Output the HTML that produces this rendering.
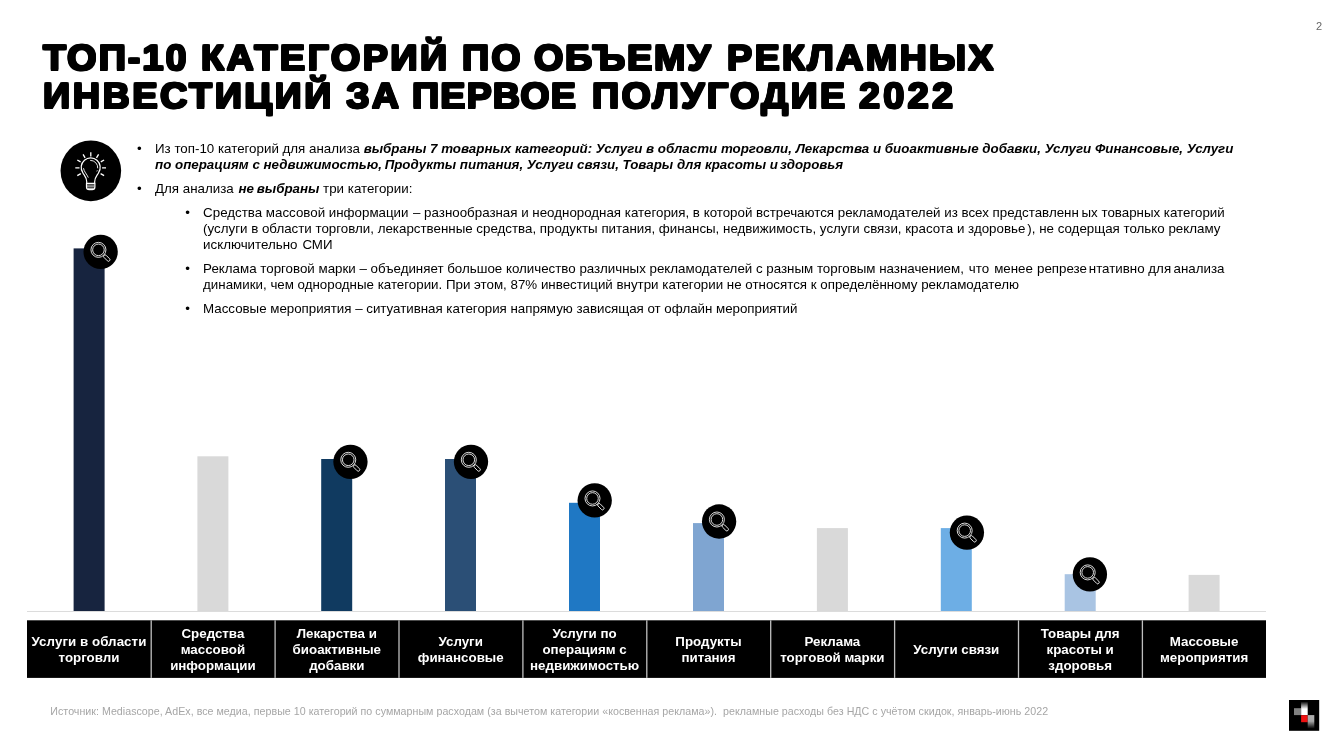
<!DOCTYPE html>
<html lang="ru">
<head>
<meta charset="utf-8">
<title>ТОП-10 категорий по объему рекламных инвестиций</title>
<style>
html,body{margin:0;padding:0;background:#fff;}
body{width:1334px;height:744px;position:relative;overflow:hidden;font-family:"Liberation Sans",sans-serif;color:#000;}
.abs{position:absolute;white-space:nowrap;}
.tw{position:absolute;white-space:nowrap;font-weight:bold;text-rendering:geometricPrecision;font-size:36.00px;line-height:38.00px;text-shadow:1.0px 0.65px 0 #000,-1.0px 0.65px 0 #000,1.0px -0.65px 0 #000,-1.0px -0.65px 0 #000,1.0px 0px 0 #000,-1.0px 0px 0 #000,0px 0.65px 0 #000,0px -0.65px 0 #000;transform-origin:0 0;color:#000;}
.t{position:absolute;white-space:nowrap;font-size:13.33px;line-height:16px;height:16px;color:#000;}
.t b{font-style:italic;font-weight:bold;}
.tbl{position:absolute;left:27px;top:620px;width:1239px;height:58px;}
.geo{position:absolute;left:0;top:0;}
.cell{position:absolute;top:0;height:58px;width:124px;color:#fff;font-weight:bold;font-size:13.33px;}
.cell span{position:absolute;left:0;width:100%;text-align:center;white-space:nowrap;line-height:16px;height:16px;}
.src{font-size:10px;color:#a6a6a6;}
.pg{font-size:11px;line-height:12px;color:#666;}
</style>
</head>
<body>
<div class="tw" style="left:43.28px;top:38.70px;letter-spacing:1.923px;transform:scaleX(1.050)">ТОП-10</div>
<div class="tw" style="left:201.38px;top:38.70px;letter-spacing:2.314px;transform:scaleX(1.050)">КАТЕГОРИЙ</div>
<div class="tw" style="left:461.78px;top:38.70px;letter-spacing:2.032px;transform:scaleX(1.050)">ПО</div>
<div class="tw" style="left:534.34px;top:38.70px;letter-spacing:1.631px;transform:scaleX(1.050)">ОБЪЕМУ</div>
<div class="tw" style="left:726.78px;top:38.70px;letter-spacing:2.165px;transform:scaleX(1.050)">РЕКЛАМНЫХ</div>
<div class="tw" style="left:42.68px;top:76.80px;letter-spacing:2.421px;transform:scaleX(1.050)">ИНВЕСТИЦИЙ</div>
<div class="tw" style="left:346.04px;top:76.80px;letter-spacing:1.961px;transform:scaleX(1.050)">ЗА</div>
<div class="tw" style="left:411.88px;top:76.80px;letter-spacing:1.017px;transform:scaleX(1.050)">ПЕРВОЕ</div>
<div class="tw" style="left:591.58px;top:76.80px;letter-spacing:2.186px;transform:scaleX(1.050)">ПОЛУГОДИЕ</div>
<div class="tw" style="left:859.38px;top:76.80px;letter-spacing:3.144px;transform:scaleX(1.050)">2022</div>
<div class="abs pg" style="left:1315.9px;top:20.2px">2</div>
<div class="t" id="L1" style="left:155.00px;top:140.70px;">Из топ-10 категорий для анализа <b>выбраны 7 товарных категорий: Услуги в области торговли, Лекарства и биоактивные добавки, Услуги Финансовые, Услуги</b></div>
<div class="t" id="L2" style="left:155.00px;top:156.50px;"><b>по операциям с недвижимостью, <span style="margin-left:-1.0px"></span>Продукты питания, Услуги связи, Товары для красоты и <span style="margin-left:-1.6px"></span>здоровья</b></div>
<div class="t" id="L3" style="left:155.00px;top:180.70px;">Для анализа <span style="margin-left:1.2px"></span><b>не <span style="margin-left:-1.0px"></span>выбраны</b> три категории:</div>
<div class="t" id="S1" style="left:203.10px;top:204.80px;">Средства массовой информации <span style="margin-left:0.8px"></span>– разнообразная и неоднородная категория, в которой встречаются рекламодателей из всех представленн<span style="margin-left:2.7px"></span>ых товарных категорий</div>
<div class="t" id="S2" style="left:203.10px;top:220.70px;">(услуги в области торговли, лекарственные средства, продукты питания, финансы, недвижимость, услуги связи, красота и здоровье<span style="margin-left:2.0px"></span>), не содерщая только рекламу</div>
<div class="t" id="S3" style="left:203.10px;top:236.50px;">исключительно <span style="margin-left:1.2px"></span>СМИ</div>
<div class="t" id="S4" style="left:203.10px;top:260.80px;">Реклама торговой марки – объединяет большое количество различных рекламодателей с разным торговым назначением, <span style="margin-left:1.3px"></span>что <span style="margin-left:1.3px"></span>менее <span style="margin-left:0.4px"></span>репрезе<span style="margin-left:1.8px"></span>нтативно для <span style="margin-left:-1.3px"></span>анализа</div>
<div class="t" id="S5" style="left:203.10px;top:276.70px;">динамики, чем однородные категории. При этом, 87% инвестиций внутри категории не относятся к определённому рекламодателю</div>
<div class="t" id="S6" style="left:203.10px;top:300.60px;letter-spacing:-0.020px;">Массовые мероприятия – ситуативная категория напрямую зависящая от офлайн мероприятий</div>
<div class="t" style="left:137.03px;top:140.91px">•</div>
<div class="t" style="left:137.03px;top:180.91px">•</div>
<div class="t" style="left:185.18px;top:204.71px">•</div>
<div class="t" style="left:185.18px;top:260.71px">•</div>
<div class="t" style="left:185.18px;top:300.51px">•</div>
<svg class="geo" width="1334" height="744" viewBox="0 0 1334 744">
<rect x="27.00" y="611.00" width="1239.00" height="1.00" fill="#dcdcdc"/>
<rect x="73.60" y="248.40" width="31.00" height="362.60" fill="#17243f"/>
<rect x="197.40" y="456.30" width="31.00" height="154.70" fill="#d9d9d9"/>
<rect x="321.20" y="459.00" width="31.00" height="152.00" fill="#103a60"/>
<rect x="445.00" y="459.00" width="31.00" height="152.00" fill="#2b4f76"/>
<rect x="569.00" y="502.80" width="31.00" height="108.20" fill="#1f78c4"/>
<rect x="693.00" y="523.10" width="31.00" height="87.90" fill="#7fa5d1"/>
<rect x="816.90" y="528.10" width="31.00" height="82.90" fill="#d9d9d9"/>
<rect x="940.80" y="528.10" width="31.00" height="82.90" fill="#6daee5"/>
<rect x="1064.70" y="574.20" width="31.00" height="36.80" fill="#a9c4e3"/>
<rect x="1188.60" y="574.90" width="31.00" height="36.10" fill="#d9d9d9"/>
<rect x="27.00" y="620.30" width="1239.00" height="57.60" fill="#000"/>
<rect x="150.55" y="620.30" width="1.30" height="57.60" fill="#bfbfbf"/>
<rect x="274.45" y="620.30" width="1.30" height="57.60" fill="#bfbfbf"/>
<rect x="398.35" y="620.30" width="1.30" height="57.60" fill="#bfbfbf"/>
<rect x="522.25" y="620.30" width="1.30" height="57.60" fill="#bfbfbf"/>
<rect x="646.15" y="620.30" width="1.30" height="57.60" fill="#bfbfbf"/>
<rect x="770.05" y="620.30" width="1.30" height="57.60" fill="#bfbfbf"/>
<rect x="893.95" y="620.30" width="1.30" height="57.60" fill="#bfbfbf"/>
<rect x="1017.85" y="620.30" width="1.30" height="57.60" fill="#bfbfbf"/>
<rect x="1141.75" y="620.30" width="1.30" height="57.60" fill="#bfbfbf"/>
</svg>
<div class="tbl">
<div class="cell" style="left:0.0px"><span style="top:14.0px;letter-spacing:0.05px">Услуги в области</span><span style="top:30.0px">торговли</span></div>
<div class="cell" style="left:123.9px"><span style="top:6.0px">Средства</span><span style="top:22.0px">массовой</span><span style="top:38.0px">информации</span></div>
<div class="cell" style="left:247.8px"><span style="top:6.0px">Лекарства и</span><span style="top:22.0px">биоактивные</span><span style="top:38.0px">добавки</span></div>
<div class="cell" style="left:371.7px"><span style="top:14.0px">Услуги</span><span style="top:30.0px">финансовые</span></div>
<div class="cell" style="left:495.6px"><span style="top:6.0px">Услуги по</span><span style="top:22.0px">операциям с</span><span style="top:38.0px">недвижимостью</span></div>
<div class="cell" style="left:619.5px"><span style="top:14.0px">Продукты</span><span style="top:30.0px">питания</span></div>
<div class="cell" style="left:743.4px"><span style="top:14.0px">Реклама</span><span style="top:30.0px">торговой марки</span></div>
<div class="cell" style="left:867.3px"><span style="top:22.0px">Услуги связи</span></div>
<div class="cell" style="left:991.2px"><span style="top:6.0px">Товары для</span><span style="top:22.0px">красоты и</span><span style="top:38.0px">здоровья</span></div>
<div class="cell" style="left:1115.1px"><span style="top:14.0px">Массовые</span><span style="top:30.0px">мероприятия</span></div>
</div>
<div class="abs src" id="src" style="left:50.3px;top:704.5px;font-size:10.67px;line-height:12px;letter-spacing:0.027px;">Источник: Mediascope, AdEx, все медиа, первые 10 категорий по суммарным расходам (за вычетом категории «косвенная реклама»).&nbsp; рекламные расходы без НДС с учётом скидок, январь-июнь 2022</div>
<svg class="geo" width="1334" height="744" viewBox="0 0 1334 744">
<g transform="translate(82.65 233.85)"><circle cx="18" cy="18" r="17.15" fill="#000"/><g fill="none" stroke="#fff" stroke-width="0.85"><circle cx="15.8" cy="16" r="7.5"/><circle cx="15.8" cy="16" r="5.8"/><rect x="-1.5" y="0" width="3" height="7.7" rx="1.4" transform="translate(21.4 21.5) rotate(-45)"/></g></g>
<g transform="translate(332.45 443.80)"><circle cx="18" cy="18" r="17.15" fill="#000"/><g fill="none" stroke="#fff" stroke-width="0.85"><circle cx="15.8" cy="16" r="7.5"/><circle cx="15.8" cy="16" r="5.8"/><rect x="-1.5" y="0" width="3" height="7.7" rx="1.4" transform="translate(21.4 21.5) rotate(-45)"/></g></g>
<g transform="translate(453.00 443.80)"><circle cx="18" cy="18" r="17.15" fill="#000"/><g fill="none" stroke="#fff" stroke-width="0.85"><circle cx="15.8" cy="16" r="7.5"/><circle cx="15.8" cy="16" r="5.8"/><rect x="-1.5" y="0" width="3" height="7.7" rx="1.4" transform="translate(21.4 21.5) rotate(-45)"/></g></g>
<g transform="translate(576.70 482.45)"><circle cx="18" cy="18" r="17.15" fill="#000"/><g fill="none" stroke="#fff" stroke-width="0.85"><circle cx="15.8" cy="16" r="7.5"/><circle cx="15.8" cy="16" r="5.8"/><rect x="-1.5" y="0" width="3" height="7.7" rx="1.4" transform="translate(21.4 21.5) rotate(-45)"/></g></g>
<g transform="translate(701.10 503.50)"><circle cx="18" cy="18" r="17.15" fill="#000"/><g fill="none" stroke="#fff" stroke-width="0.85"><circle cx="15.8" cy="16" r="7.5"/><circle cx="15.8" cy="16" r="5.8"/><rect x="-1.5" y="0" width="3" height="7.7" rx="1.4" transform="translate(21.4 21.5) rotate(-45)"/></g></g>
<g transform="translate(948.90 514.60)"><circle cx="18" cy="18" r="17.15" fill="#000"/><g fill="none" stroke="#fff" stroke-width="0.85"><circle cx="15.8" cy="16" r="7.5"/><circle cx="15.8" cy="16" r="5.8"/><rect x="-1.5" y="0" width="3" height="7.7" rx="1.4" transform="translate(21.4 21.5) rotate(-45)"/></g></g>
<g transform="translate(1071.90 556.40)"><circle cx="18" cy="18" r="17.15" fill="#000"/><g fill="none" stroke="#fff" stroke-width="0.85"><circle cx="15.8" cy="16" r="7.5"/><circle cx="15.8" cy="16" r="5.8"/><rect x="-1.5" y="0" width="3" height="7.7" rx="1.4" transform="translate(21.4 21.5) rotate(-45)"/></g></g>
</svg>
<svg class="geo" width="1334" height="744" viewBox="0 0 1334 744">
<circle cx="90.85" cy="170.85" r="30.3" fill="#000"/>
<g fill="none" stroke="#fff" stroke-width="1.2" stroke-linejoin="round">
<path d="M86.7 183.3V181.6C86.7 177.4 84.3 175.5 82.8 172.7A9.5 9.5 0 1 1 98.6 172.7C97.1 175.5 94.7 177.4 94.7 181.6V183.3"/>
<path d="M86.5 183.3H94.9V187Q94.9 189.7 92.2 189.7H89.2Q86.5 189.7 86.5 187Z"/>
<path d="M86.9 185.1H94.5M86.9 186.8H94.5M87.6 188.4H93.8" stroke-width="0.8"/>
<path d="M90.8 152.2V156.4M83.1 154.4L85.1 157.9M98.6 154.4L96.5 157.9M77.3 160L80.6 161.9M104.1 160L100.8 161.9M75.3 167.9H79.5M102.1 167.9H106M77.3 175.6L80.8 173.6M104.1 175.6L100.6 173.6" stroke-width="1.3"/>
<path d="M90.2 160.4A7.3 7.3 0 0 1 97.7 168.3M97.3 170.3L96.8 171.4M83.5 168.2C83.9 171.5 86.9 174.2 88.3 177.6" stroke-width="0.9"/>
</g>
</svg>
<svg class="geo" width="1334" height="744" viewBox="0 0 1334 744">
<defs>
<linearGradient id="lg1" x1="0" y1="0" x2="0" y2="1"><stop offset="0" stop-color="#000"/><stop offset="0.55" stop-color="#fff"/><stop offset="1" stop-color="#fff"/></linearGradient>
<linearGradient id="lg2" x1="0" y1="0" x2="0" y2="1"><stop offset="0" stop-color="#b0b0b0"/><stop offset="0.45" stop-color="#a6a6a6"/><stop offset="1" stop-color="#000"/></linearGradient>
</defs>
<rect x="1289" y="700" width="30.2" height="30.8" fill="#000"/>
<rect x="1301.1" y="701.5" width="6.6" height="13.6" fill="url(#lg1)"/>
<rect x="1294" y="708.2" width="7.1" height="6.9" fill="#808080"/>
<rect x="1301.1" y="715.2" width="6.6" height="7" fill="#ee1111"/>
<rect x="1307.7" y="715.1" width="6.6" height="13.6" fill="url(#lg2)"/>
</svg>
</body>
</html>
